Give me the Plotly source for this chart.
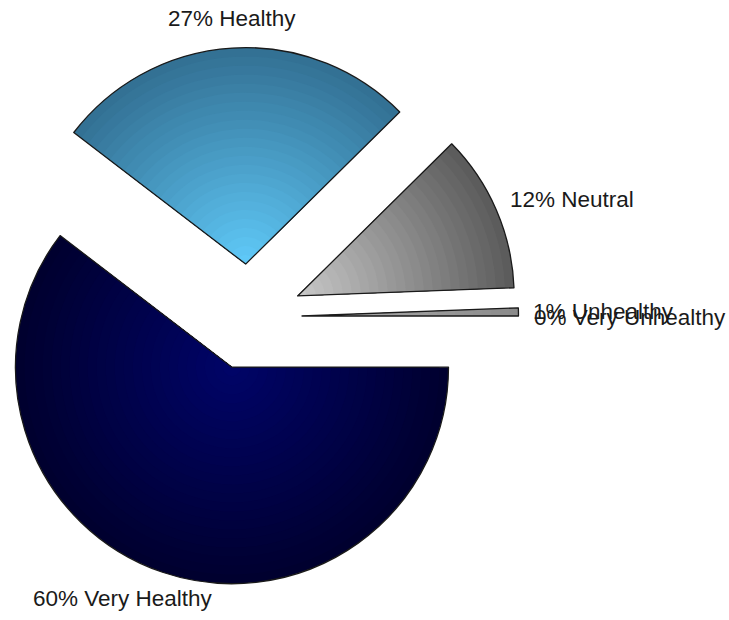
import math
import plotly.graph_objects as go

# ---- data ----
labels = ["Very Healthy", "Healthy", "Neutral", "Unhealthy", "Very Unhealthy"]
values = [60.4, 27.2, 11.8, 0.6, 0.0]

# ---- styles ----
inner_colors = ["#000468", "#60caf9", "#c9c9c9", "#b0b0b0", "#999999"]
outer_colors = ["#00002e", "#326f92", "#5a5a5a", "#8a8a8a", "#777777"]
outline_color = "#1a1a1a"

W, H = 729, 620
CX, CY = 249.0, 317.0      # centre of the un-exploded pie (px)
R = 216.5                  # radius (px)
PULL = 53.0                # explode distance (px)
LAYERS = 24                # layers used to imitate the radial shading

# label placement (px): x, y, xanchor
label_layout = [
    (31.0, 598.0, "left"),
    (232.0, 18.5, "center"),
    (508.0, 200.0, "left"),
    (531.0, 311.0, "left"),
    (532.0, 317.5, "left"),
]

total = sum(values)
n = len(values)
TRANSPARENT = "rgba(0,0,0,0)"


def hex2rgb(h):
    h = h.lstrip("#")
    return tuple(int(h[j:j + 2], 16) for j in (0, 2, 4))


def mix(a, b, t):
    ra, rb = hex2rgb(a), hex2rgb(b)
    c = [round(ra[j] + (rb[j] - ra[j]) * t) for j in range(3)]
    return "rgb(%d,%d,%d)" % tuple(c)


def px2paper(x, y):
    return x / W, 1 - y / H


def domain_for(cx, cy, r):
    x0, y1 = px2paper(cx - r, cy - r)
    x1, y0 = px2paper(cx + r, cy + r)
    return dict(x=[x0, x1], y=[y0, y1])


fig = go.Figure()
common = dict(values=values, labels=labels, sort=False, direction="clockwise",
              rotation=90, textinfo="none", showlegend=False)

start = 0.0  # degrees clockwise from 3 o'clock
outlines = []
for i, v in enumerate(values):
    span = 360.0 * v / total
    mid = start + span / 2.0
    start += span
    if v <= 0:
        continue
    ax = CX + PULL * math.cos(math.radians(mid))
    ay = CY + PULL * math.sin(math.radians(mid))
    for k in range(LAYERS, 0, -1):
        rk = R * k / LAYERS
        cols = [TRANSPARENT] * n
        cols[i] = mix(inner_colors[i], outer_colors[i], (k - 0.5) / LAYERS)
        fig.add_trace(go.Pie(**common,
                             marker=dict(colors=cols, line=dict(width=0)),
                             hoverinfo="skip",
                             domain=domain_for(ax, ay, rk)))
    lc = [TRANSPARENT] * n
    lc[i] = outline_color
    lw = [0] * n
    lw[i] = 1.3
    outlines.append(go.Pie(**common,
                           marker=dict(colors=[TRANSPARENT] * n,
                                       line=dict(color=lc, width=lw)),
                           hoverinfo="label+percent",
                           domain=domain_for(ax, ay, R)))

for tr in outlines:
    fig.add_trace(tr)

annotations = []
for (px, py, anchor), lab, v in zip(label_layout, labels, values):
    xp, yp = px2paper(px, py)
    annotations.append(dict(
        x=xp, y=yp, xref="paper", yref="paper",
        text="%d%% %s" % (round(100.0 * v / total), lab),
        showarrow=False, xanchor=anchor, yanchor="middle",
        font=dict(family="Liberation Sans, Arial, sans-serif", size=22.5, color="#1a1a1a"),
    ))

fig.update_layout(
    width=W, height=H,
    margin=dict(l=0, r=0, t=0, b=0),
    paper_bgcolor="white", plot_bgcolor="white",
    showlegend=False,
    annotations=annotations,
)

fig.write_html("out.html",
               config={"displayModeBar": False},
               post_script="document.body.style.margin='0';document.body.style.overflow='hidden';")
